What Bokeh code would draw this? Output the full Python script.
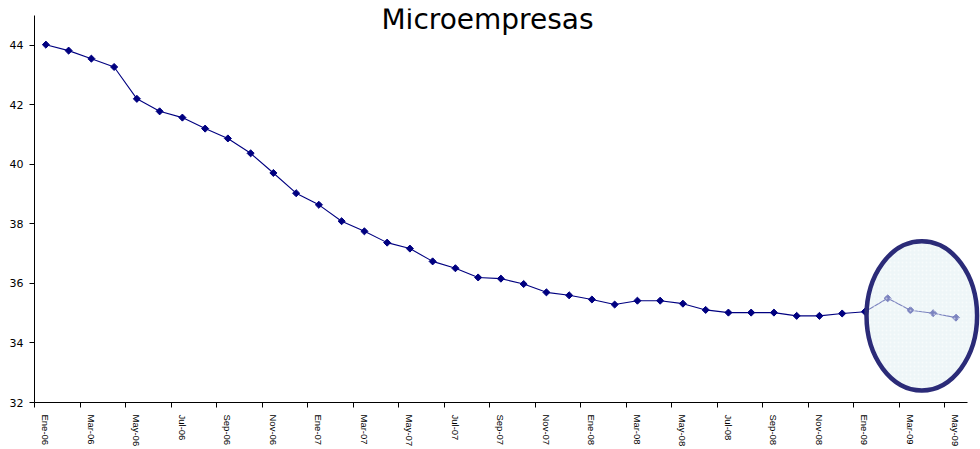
import math
from bokeh.plotting import figure
from bokeh.models import FixedTicker, Range1d, Label, ColumnDataSource
from bokeh.embed import file_html
from bokeh.resources import INLINE

# ---- data -------------------------------------------------------------
months = [
    "Ene-06", "Feb-06", "Mar-06", "Abr-06", "May-06", "Jun-06", "Jul-06", "Ago-06",
    "Sep-06", "Oct-06", "Nov-06", "Dic-06",
    "Ene-07", "Feb-07", "Mar-07", "Abr-07", "May-07", "Jun-07", "Jul-07", "Ago-07",
    "Sep-07", "Oct-07", "Nov-07", "Dic-07",
    "Ene-08", "Feb-08", "Mar-08", "Abr-08", "May-08", "Jun-08", "Jul-08", "Ago-08",
    "Sep-08", "Oct-08", "Nov-08", "Dic-08",
    "Ene-09", "Feb-09", "Mar-09", "Abr-09", "May-09",
]
values = [
    44.02, 43.82, 43.55, 43.27, 42.20, 41.78, 41.57, 41.20,
    40.87, 40.37, 39.71, 39.03,
    38.64, 38.09, 37.75, 37.37, 37.17, 36.74, 36.51, 36.20,
    36.16, 35.98, 35.70, 35.60,
    35.46, 35.29, 35.42, 35.42, 35.32, 35.11, 35.02, 35.02,
    35.02, 34.91, 34.91, 34.99,
    35.05, 35.50, 35.10, 35.00, 34.85,
]
y_ticks = [32, 34, 36, 38, 40, 42, 44]
y_min, y_max = 32, 45
title_text = "Microempresas"
highlight_count = 4          # last months highlighted by the ellipse
highlight_y = 34.91
highlight_w = 4.86
highlight_h = 5.01

# ---- figure -----------------------------------------------------------
n = len(values)
idx = list(range(n))
src = ColumnDataSource(dict(x=idx, y=values, m=months))

# frame starts a few pixels above the axis top so the title is not clipped
px_per_unit = (403 - 15) / (y_max - y_min)
top_pad = 7 / px_per_unit

p = figure(width=980, height=449, output_backend="svg", toolbar_location=None,
           x_range=Range1d(-0.5, n - 0.5 + 0.58),
           y_range=Range1d(y_min, y_max + top_pad),
           min_border_left=34, min_border_right=0, min_border_top=8,
           min_border_bottom=46)
p.outline_line_color = None
p.grid.visible = False
p.background_fill_color = "white"
p.border_fill_color = "white"

# line + markers
p.line("x", "y", source=src, line_color="#000080", line_width=1.1)
p.scatter("x", "y", source=src, marker="square", angle=math.pi / 4, size=5,
          fill_color="#000080", line_color="#000080", line_width=1)

# highlight ellipse around the last months
hx = sum(idx[-highlight_count:]) / highlight_count
p.ellipse(x=[hx], y=[highlight_y], width=highlight_w, height=highlight_h,
          fill_color="#E0EFF2", fill_alpha=0.55,
          hatch_pattern="dot", hatch_color="white", hatch_alpha=0.5, hatch_scale=4,
          line_color="#2B2B78", line_width=4.5)

# axes
xa = p.xaxis[0]
xa.ticker = FixedTicker(ticks=list(range(0, n, 2)),
                        minor_ticks=[i - 0.5 for i in range(0, n, 2)])
xa.major_label_overrides = {i: months[i] for i in range(0, n, 2)}
xa.major_label_orientation = "vertical"
xa.major_tick_out = 0
xa.major_tick_in = 0
xa.minor_tick_out = 5
xa.minor_tick_in = 0
xa.minor_tick_line_color = "black"
xa.major_label_standoff = 7
xa.major_label_text_font = "Liberation Sans"
xa.major_label_text_font_size = "9.5px"
xa.major_label_text_color = "black"
xa.axis_line_color = "black"
xa.axis_label_standoff = 0
xa.bounds = (-0.5, n - 0.5)

ya = p.yaxis[0]
ya.ticker = FixedTicker(ticks=y_ticks)
ya.major_tick_out = 5
ya.major_tick_in = 0
ya.minor_tick_line_color = None
ya.major_label_standoff = 6
ya.major_label_text_font = "DejaVu Sans"
ya.major_label_text_font_size = "11px"
ya.major_label_text_color = "black"
ya.axis_line_color = "black"
ya.major_tick_line_color = "black"
ya.bounds = (y_min, y_max)

# title placed inside the plot area, as in the reference
p.add_layout(Label(x=453, y=44.87, x_units="screen", y_units="data",
                   text=title_text, text_align="center", text_baseline="alphabetic",
                   text_font="DejaVu Sans", text_font_size="28px", text_color="black"))

open("out.html", "w").write(file_html(p, INLINE))
